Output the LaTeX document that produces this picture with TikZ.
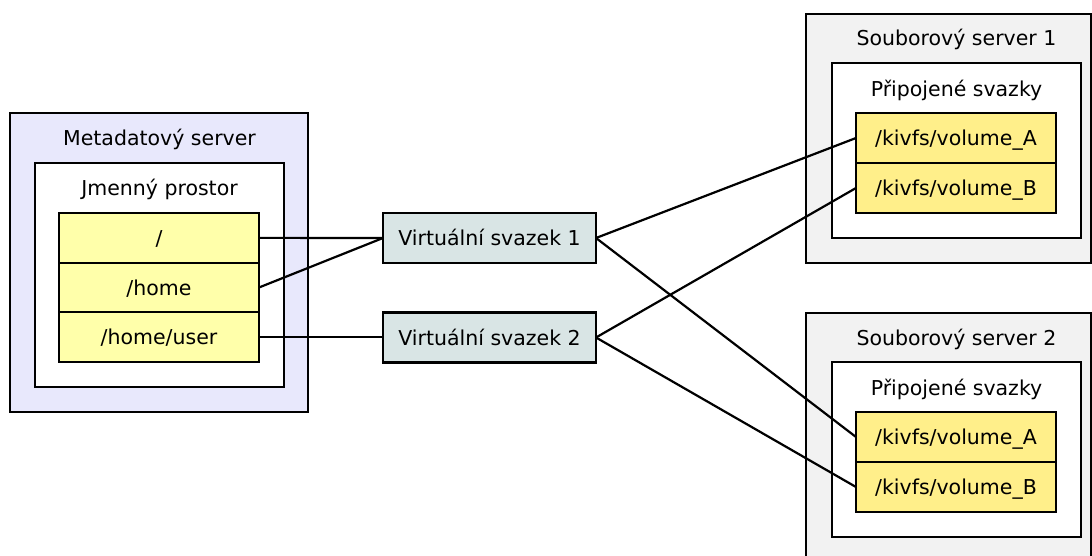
\documentclass[tikz,border=0pt]{standalone}
\usepackage{fontspec}
\setmainfont{DejaVu Sans}
\definecolor{metafill}{HTML}{E8E8FC}
\definecolor{srvfill}{HTML}{F2F2F2}
\definecolor{nsrow}{HTML}{FFFFAA}
\definecolor{volrow}{HTML}{FFEF8A}
\definecolor{virtfill}{HTML}{D9E5E5}
\tikzset{
  box/.style={draw=black, line width=2.2pt, inner sep=0pt, outer sep=0pt},
  label/.style={inner sep=0pt, font=\fontsize{20.5}{24}\selectfont, text height=15pt, text depth=0pt},
  row/.style={box, label, minimum width=200pt, minimum height=49.7pt},
  nsrowbox/.style={row, fill=nsrow},
  volrowbox/.style={row, fill=volrow},
  virtbox/.style={box, label, fill=virtfill, minimum width=213pt, minimum height=50pt},
  link/.style={draw=black, line width=2.2pt},
}
\begin{document}
\begin{tikzpicture}[x=1pt, y=-1pt]
\useasboundingbox (0,0) rectangle (1092,556);
\clip (0,0) rectangle (1092,556);

% metadata server
\node[box, fill=metafill, minimum width=298pt, minimum height=299pt] (meta) at (159,262.5) {};
\node[box, fill=white, minimum width=249pt, minimum height=224pt] (ns) at (159.5,275) {};
\node[label] (metaT) at (159.5,138) {Metadatový server};
\node[label] (nsT) at (159.5,188) {Jmenný prostor};
\node[nsrowbox] (root) at (159,237.85) {/};
\node[nsrowbox] (home) at (159,287.5) {/home};
\node[nsrowbox] (user) at (159,337.15) {/home/user};

% virtual volumes
\node[virtbox] (v1) at (489.5,238) {Virtuální svazek 1};
\node[virtbox] (v2) at (489.5,337.5) {Virtuální svazek 2};

% file server 1
\node[box, fill=srvfill, minimum width=285pt, minimum height=249pt] (s1) at (948.5,138.5) {};
\node[box, fill=white, minimum width=249pt, minimum height=175pt] (s1in) at (956.5,150.5) {};
\node[label] (s1T) at (956.5,38) {Souborový server 1};
\node[label] (s1inT) at (956.5,89) {Připojené svazky};
\node[volrowbox] (s1a) at (956,138) {/kivfs/volume\_A};
\node[volrowbox] (s1b) at (956,188) {/kivfs/volume\_B};

% file server 2
\node[box, fill=srvfill, minimum width=285pt, minimum height=300pt] (s2) at (948.5,463) {};
\node[box, fill=white, minimum width=249pt, minimum height=175pt] (s2in) at (956.5,449.5) {};
\node[label] (s2T) at (956.5,337.5) {Souborový server 2};
\node[label] (s2inT) at (956.5,387.5) {Připojené svazky};
\node[volrowbox] (s2a) at (956,437) {/kivfs/volume\_A};
\node[volrowbox] (s2b) at (956,487) {/kivfs/volume\_B};

% connections
\draw[link] (root.east) -- (v1.west);
\draw[link] (home.east) -- (v1.west);
\draw[link] (user.east) -- (user.east -| v2.west);
\draw[link] (v1.east) -- (s1a.west);
\draw[link] (v1.east) -- (s2a.west);
\draw[link] (v2.east) -- (s1b.west);
\draw[link] (v2.east) -- (s2b.west);
\end{tikzpicture}
\end{document}
